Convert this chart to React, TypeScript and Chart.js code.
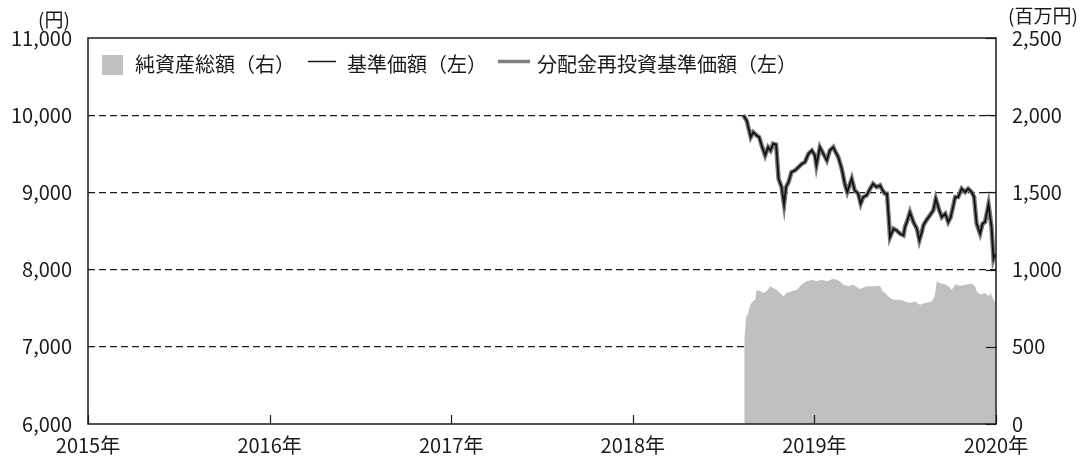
import React, { useEffect, useRef } from "react";
import { Chart, registerables } from "chart.js";

Chart.register(...registerables);

const priceDates: string[] = [
  "2018-08-11", "2018-08-18", "2018-08-26", "2018-08-31", "2018-09-07", "2018-09-12", "2018-09-17", "2018-09-24",
  "2018-09-30", "2018-10-05", "2018-10-10", "2018-10-16", "2018-10-21", "2018-10-27", "2018-11-01", "2018-11-05",
  "2018-11-10", "2018-11-16", "2018-11-23", "2018-11-30", "2018-12-07", "2018-12-13", "2018-12-20", "2018-12-27",
  "2019-01-02", "2019-01-05", "2019-01-12", "2019-01-19", "2019-01-26", "2019-02-01", "2019-02-08", "2019-02-11",
  "2019-02-18", "2019-02-25", "2019-03-03", "2019-03-08", "2019-03-17", "2019-03-23", "2019-03-30", "2019-04-04",
  "2019-04-09", "2019-04-16", "2019-04-23", "2019-04-29", "2019-05-06", "2019-05-13", "2019-05-18", "2019-05-23",
  "2019-05-27", "2019-06-02", "2019-06-09", "2019-06-15", "2019-06-22", "2019-06-29", "2019-07-02", "2019-07-07",
  "2019-07-12", "2019-07-19", "2019-07-26", "2019-07-31", "2019-08-05", "2019-08-08", "2019-08-14", "2019-08-21",
  "2019-08-28", "2019-09-02", "2019-09-09", "2019-09-14", "2019-09-21", "2019-09-27", "2019-10-02", "2019-10-11",
  "2019-10-17", "2019-10-24", "2019-10-31", "2019-11-06", "2019-11-13", "2019-11-18", "2019-11-23", "2019-11-30",
  "2019-12-05", "2019-12-10", "2019-12-17", "2019-12-23", "2019-12-27", "2019-12-30",
];

const navValues: number[] = [
  10000, 9930, 9716, 9780, 9737, 9716, 9608, 9479,
  9586, 9543, 9630, 9620, 9177, 9069, 8845, 9069,
  9133, 9263, 9285, 9327, 9371, 9392, 9500, 9543,
  9479, 9349, 9586, 9500, 9414, 9543, 9586, 9543,
  9457, 9306, 9112, 9004, 9177, 9026, 8983, 8853,
  8939, 8961, 9048, 9112, 9069, 9091, 9026, 8983,
  8983, 8422, 8530, 8508, 8466, 8444, 8551, 8638,
  8745, 8616, 8530, 8379, 8487, 8573, 8638, 8702,
  8767, 8918, 8767, 8680, 8724, 8616, 8680, 8939,
  8939, 9048, 9004, 9048, 9004, 8939, 8595, 8466,
  8595, 8616, 8845, 8551, 8142, 8200,
];

// 分配金再投資基準価額 (no distributions paid: identical to 基準価額)
const reinvestedValues: number[] = [...navValues];

const assetDates: string[] = [
  "2018-08-13", "2018-08-17", "2018-08-21", "2018-08-25", "2018-08-30", "2018-09-04", "2018-09-07", "2018-09-14",
  "2018-09-20", "2018-09-27", "2018-10-04", "2018-10-10", "2018-10-17", "2018-10-24", "2018-10-31", "2018-11-06",
  "2018-11-16", "2018-11-27", "2018-12-03", "2018-12-10", "2018-12-17", "2018-12-27", "2019-01-05", "2019-01-15",
  "2019-01-26", "2019-02-08", "2019-02-15", "2019-02-21", "2019-02-28", "2019-03-10", "2019-03-20", "2019-04-02",
  "2019-04-16", "2019-04-29", "2019-05-13", "2019-05-18", "2019-05-23", "2019-06-02", "2019-06-09", "2019-06-22",
  "2019-07-02", "2019-07-12", "2019-07-22", "2019-08-01", "2019-08-11", "2019-08-25", "2019-08-31", "2019-09-04",
  "2019-09-10", "2019-09-21", "2019-09-27", "2019-10-04", "2019-10-11", "2019-10-21", "2019-11-03", "2019-11-13",
  "2019-11-20", "2019-11-23", "2019-11-30", "2019-12-10", "2019-12-17", "2019-12-21", "2019-12-27", "2019-12-30",
];

const assetValues: number[] = [
  545, 697, 719, 773, 794, 805, 870, 859,
  849, 859, 892, 881, 870, 849, 827, 849,
  859, 870, 892, 914, 924, 935, 924, 935,
  924, 940, 935, 924, 903, 892, 903, 875,
  892, 892, 896, 859, 849, 816, 805, 805,
  794, 784, 794, 773, 784, 794, 827, 924,
  914, 903, 892, 870, 903, 896, 903, 909,
  892, 859, 838, 849, 827, 849, 805, 794,
];

const yearTicks: number[] = [2015, 2016, 2017, 2018, 2019, 2020];
const leftTicks: number[] = [6000, 7000, 8000, 9000, 10000, 11000];
const rightTicks: number[] = [0, 500, 1000, 1500, 2000, 2500];

const legendLabels: string[] = ["純資産総額（右）", "基準価額（左）", "分配金再投資基準価額（左）"];
const leftUnit = "(円)";
const rightUnit = "(百万円)";

const FONT = '"Noto Sans CJK JP", "Noto Sans", sans-serif';
const TEXT = "#1a1a1a";

function toYear(s: string): number {
  const [y, m, d] = s.split("-").map(Number);
  const start = Date.UTC(y, 0, 1);
  const end = Date.UTC(y + 1, 0, 1);
  return y + (Date.UTC(y, m - 1, d) - start) / (end - start);
}

const fmt = (v: number) => v.toLocaleString("en-US");

const decorPlugin = {
  id: "decor",
  afterDatasetsDraw(chart: any) {
    const { ctx, chartArea } = chart;
    const { left, right, top, bottom } = chartArea;
    const xs = chart.scales.x;
    const yr = chart.scales.y1;
    ctx.save();
    ctx.strokeStyle = "#1a1a1a";
    ctx.lineWidth = 1.5;
    ctx.setLineDash([]);
    ctx.strokeRect(left, top, right - left, bottom - top);
    // inward tick marks on bottom axis
    ctx.lineWidth = 1.2;
    for (const t of yearTicks) {
      const px = Math.round(xs.getPixelForValue(t)) + 0.5;
      ctx.beginPath();
      ctx.moveTo(px, bottom);
      ctx.lineTo(px, bottom - 9);
      ctx.stroke();
    }
    // inward tick marks on right axis
    for (const t of rightTicks) {
      const py = Math.round(yr.getPixelForValue(t)) + 0.5;
      ctx.beginPath();
      ctx.moveTo(right, py);
      ctx.lineTo(right - 10, py);
      ctx.stroke();
    }
    ctx.restore();
  },
  afterDraw(chart: any) {
    const { ctx } = chart;
    ctx.save();
    ctx.fillStyle = TEXT;
    ctx.font = `19px ${FONT}`;
    ctx.textAlign = "center";
    ctx.textBaseline = "middle";
    ctx.fillText(leftUnit, 54, 20);
    ctx.fillText(rightUnit, 1043, 16);

    // legend
    ctx.font = `20px ${FONT}`;
    ctx.textAlign = "left";
    const ly = 64;
    ctx.fillStyle = "#c0c0c0";
    ctx.fillRect(102, 55, 21, 20);
    ctx.fillStyle = TEXT;
    ctx.fillText(legendLabels[0], 135, ly);
    ctx.strokeStyle = "#1a1a1a";
    ctx.lineWidth = 1.5;
    ctx.beginPath();
    ctx.moveTo(308, 61.5);
    ctx.lineTo(336, 61.5);
    ctx.stroke();
    ctx.fillText(legendLabels[1], 347, ly);
    ctx.strokeStyle = "#808080";
    ctx.lineWidth = 3.5;
    ctx.beginPath();
    ctx.moveTo(498, 61.5);
    ctx.lineTo(530, 61.5);
    ctx.stroke();
    ctx.fillText(legendLabels[2], 537, ly);
    ctx.restore();
  },
};

export default function App() {
  const ref = useRef<HTMLCanvasElement | null>(null);

  useEffect(() => {
    document.body.style.margin = "0";
    const canvas = ref.current;
    if (!canvas) return;

    const navData = priceDates.map((d, i) => ({ x: toYear(d), y: navValues[i] }));
    const reData = priceDates.map((d, i) => ({ x: toYear(d), y: reinvestedValues[i] }));
    const assetData = assetDates.map((d, i) => ({ x: toYear(d), y: assetValues[i] }));

    const chart = new Chart(canvas, {
      type: "line",
      data: {
        datasets: [
          {
            label: legendLabels[1],
            data: navData,
            yAxisID: "y",
            borderColor: "#111111",
            borderWidth: 1.8,
            pointRadius: 0,
            tension: 0,
            fill: false,
            order: 1,
          },
          {
            label: legendLabels[2],
            data: reData,
            yAxisID: "y",
            borderColor: "#7a7a7a",
            borderWidth: 4.5,
            pointRadius: 0,
            tension: 0,
            fill: false,
            order: 2,
          },
          {
            label: legendLabels[0],
            data: assetData,
            yAxisID: "y1",
            borderColor: "#c0c0c0",
            backgroundColor: "#c0c0c0",
            borderWidth: 0,
            pointRadius: 0,
            tension: 0,
            fill: "origin",
            order: 3,
          },
        ],
      },
      options: {
        animation: false,
        responsive: false,
        maintainAspectRatio: false,
        layout: { padding: { top: 38, left: 0, right: 0, bottom: 0 } },
        plugins: {
          legend: { display: false },
          tooltip: { enabled: false },
        },
        scales: {
          x: {
            type: "linear",
            min: yearTicks[0],
            max: yearTicks[yearTicks.length - 1],
            afterFit: (s: any) => {
              s.height = 36;
            },
            afterBuildTicks: (s: any) => {
              s.ticks = yearTicks.map((v) => ({ value: v }));
            },
            grid: { display: false, drawTicks: false },
            border: { display: false },
            ticks: {
              padding: 9,
              color: TEXT,
              font: { family: FONT, size: 20 },
              maxRotation: 0,
              autoSkip: false,
              callback: (v: any) => `${v}年`,
            },
          },
          y: {
            position: "left",
            min: leftTicks[0],
            max: leftTicks[leftTicks.length - 1],
            afterFit: (s: any) => {
              s.width = 88;
            },
            afterBuildTicks: (s: any) => {
              s.ticks = leftTicks.map((v) => ({ value: v }));
            },
            grid: {
              drawTicks: false,
              color: (c: any) =>
                c.tick && (c.tick.value === leftTicks[0] || c.tick.value === leftTicks[leftTicks.length - 1])
                  ? "rgba(0,0,0,0)"
                  : "#1a1a1a",
              lineWidth: 1.2,
            },
            border: { display: false, dash: [7, 4] },
            ticks: {
              padding: 16,
              color: TEXT,
              font: { family: FONT, size: 20 },
              callback: (v: any) => fmt(Number(v)),
            },
          },
          y1: {
            position: "right",
            min: rightTicks[0],
            max: rightTicks[rightTicks.length - 1],
            afterFit: (s: any) => {
              s.width = 96;
            },
            afterBuildTicks: (s: any) => {
              s.ticks = rightTicks.map((v) => ({ value: v }));
            },
            grid: { display: false, drawTicks: false },
            border: { display: false },
            ticks: {
              padding: 16,
              color: TEXT,
              font: { family: FONT, size: 20 },
              callback: (v: any) => fmt(Number(v)),
            },
          },
        },
      },
      plugins: [decorPlugin],
    });

    return () => chart.destroy();
  }, []);

  return (
    <div style={{ width: 1092, height: 460, background: "#ffffff" }}>
      <canvas ref={ref} width={1092} height={460} style={{ display: "block", width: 1092, height: 460 }} />
    </div>
  );
}
